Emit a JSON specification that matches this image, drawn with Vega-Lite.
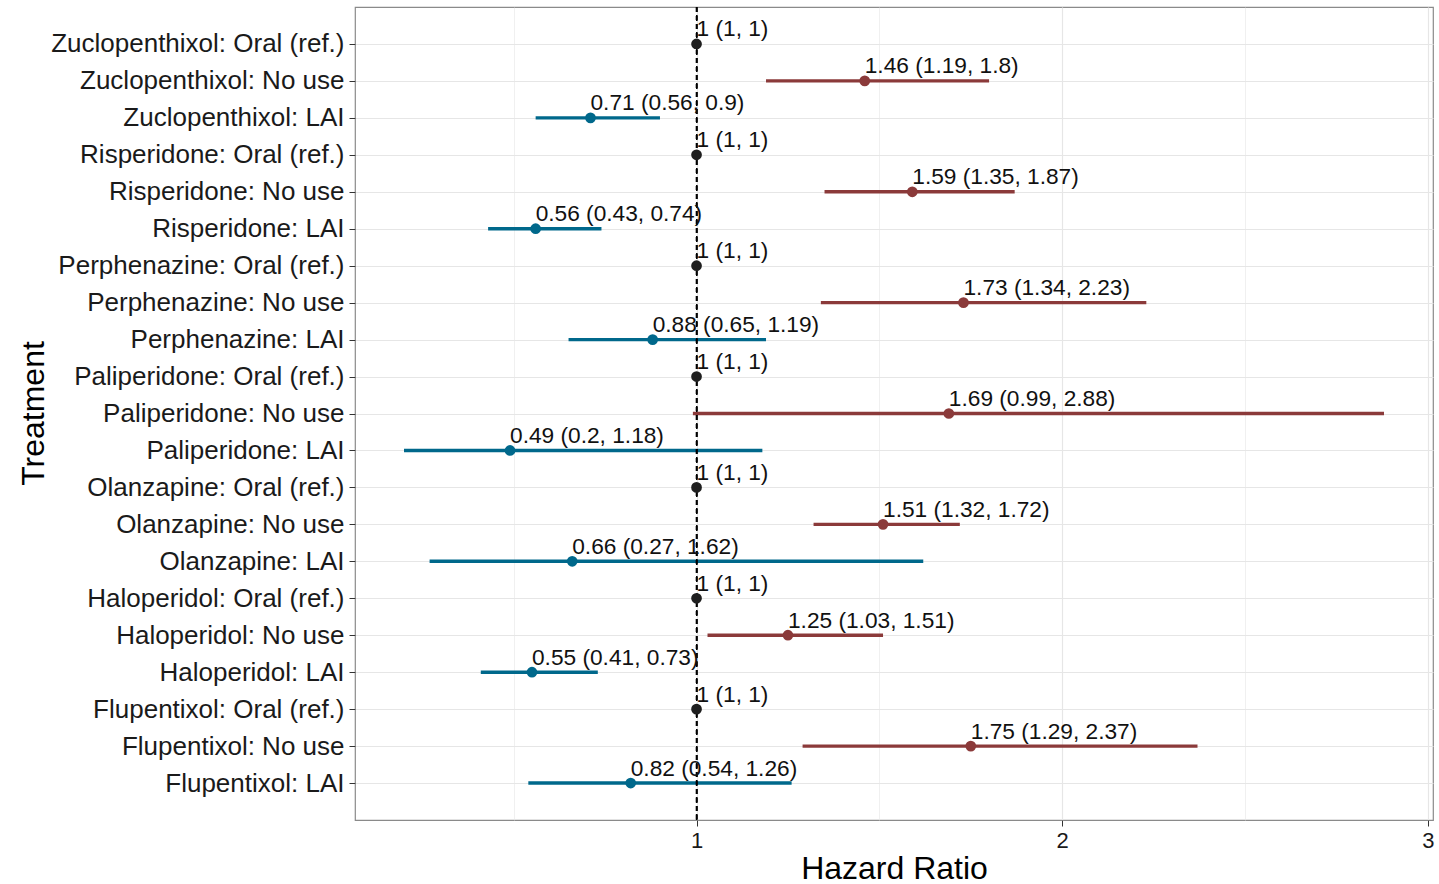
{
  "$schema": "https://vega.github.io/schema/vega-lite/v6.json",
  "width": 1078,
  "height": 813,
  "autosize": {"type": "none"},
  "padding": {"left": 355, "top": 7, "right": 6, "bottom": 64},
  "background": "white",
  "config": {
    "font": "Liberation Sans",
    "view": {"stroke": "#8a8a8a", "strokeWidth": 1.2},
    "axis": {"domain": false}
  },
  "data": {
    "values": [
      {"treatment": "Zuclopenthixol: Oral (ref.)", "use": "Oral (ref.)", "hr": 1, "lo": 1, "hi": 1},
      {"treatment": "Zuclopenthixol: No use", "use": "No use", "hr": 1.46, "lo": 1.19, "hi": 1.8},
      {"treatment": "Zuclopenthixol: LAI", "use": "LAI", "hr": 0.71, "lo": 0.56, "hi": 0.9},
      {"treatment": "Risperidone: Oral (ref.)", "use": "Oral (ref.)", "hr": 1, "lo": 1, "hi": 1},
      {"treatment": "Risperidone: No use", "use": "No use", "hr": 1.59, "lo": 1.35, "hi": 1.87},
      {"treatment": "Risperidone: LAI", "use": "LAI", "hr": 0.56, "lo": 0.43, "hi": 0.74},
      {"treatment": "Perphenazine: Oral (ref.)", "use": "Oral (ref.)", "hr": 1, "lo": 1, "hi": 1},
      {"treatment": "Perphenazine: No use", "use": "No use", "hr": 1.73, "lo": 1.34, "hi": 2.23},
      {"treatment": "Perphenazine: LAI", "use": "LAI", "hr": 0.88, "lo": 0.65, "hi": 1.19},
      {"treatment": "Paliperidone: Oral (ref.)", "use": "Oral (ref.)", "hr": 1, "lo": 1, "hi": 1},
      {"treatment": "Paliperidone: No use", "use": "No use", "hr": 1.69, "lo": 0.99, "hi": 2.88},
      {"treatment": "Paliperidone: LAI", "use": "LAI", "hr": 0.49, "lo": 0.2, "hi": 1.18},
      {"treatment": "Olanzapine: Oral (ref.)", "use": "Oral (ref.)", "hr": 1, "lo": 1, "hi": 1},
      {"treatment": "Olanzapine: No use", "use": "No use", "hr": 1.51, "lo": 1.32, "hi": 1.72},
      {"treatment": "Olanzapine: LAI", "use": "LAI", "hr": 0.66, "lo": 0.27, "hi": 1.62},
      {"treatment": "Haloperidol: Oral (ref.)", "use": "Oral (ref.)", "hr": 1, "lo": 1, "hi": 1},
      {"treatment": "Haloperidol: No use", "use": "No use", "hr": 1.25, "lo": 1.03, "hi": 1.51},
      {"treatment": "Haloperidol: LAI", "use": "LAI", "hr": 0.55, "lo": 0.41, "hi": 0.73},
      {"treatment": "Flupentixol: Oral (ref.)", "use": "Oral (ref.)", "hr": 1, "lo": 1, "hi": 1},
      {"treatment": "Flupentixol: No use", "use": "No use", "hr": 1.75, "lo": 1.29, "hi": 2.37},
      {"treatment": "Flupentixol: LAI", "use": "LAI", "hr": 0.82, "lo": 0.54, "hi": 1.26}
    ]
  },
  "transform": [
    {"calculate": "datum.hr + ' (' + datum.lo + ', ' + datum.hi + ')'", "as": "label"}
  ],
  "encoding": {
    "y": {
      "field": "treatment",
      "type": "nominal",
      "sort": null,
      "scale": {"type": "point", "padding": 1},
      "axis": {
        "title": "Treatment",
        "titleFont": "Liberation Sans",
        "titleFontSize": 32,
        "titleFontWeight": "normal",
        "titleColor": "black",
        "titleAngle": -90,
        "titleX": -312,
        "titleY": 406,
        "titleAlign": "center",
        "titleBaseline": "alphabetic",
        "labelFontSize": 26,
        "labelLimit": 0,
        "labelColor": "#1a1a1a",
        "labelPadding": 5,
        "tickSize": 6,
        "tickColor": "#333333",
        "tickWidth": 1,
        "grid": true,
        "gridColor": "#e6e6e6",
        "gridWidth": 1.2
      }
    }
  },
  "layer": [
    {
      "mark": {"type": "rule", "strokeWidth": 3.4},
      "encoding": {
        "x": {
          "field": "lo",
          "type": "quantitative",
          "scale": {"domain": [0.066, 3.014], "nice": false, "zero": false},
          "axis": {
            "title": "Hazard Ratio",
            "titleFontSize": 32,
            "titleFontWeight": "normal",
            "titleColor": "black",
            "titleX": 539,
            "titleY": 58,
            "titleBaseline": "alphabetic",
            "values": [0.5, 1, 1.5, 2, 2.5, 3],
            "labelExpr": "datum.value % 1 === 0 ? format(datum.value, 'd') : ''",
            "labelFontSize": 22,
            "labelColor": "#1a1a1a",
            "labelPadding": 4,
            "tickSize": 6,
            "tickColor": "#333333",
            "tickOpacity": {"condition": {"test": "datum.value % 1 !== 0", "value": 0}, "value": 1},
            "grid": true,
            "gridColor": "#e6e6e6",
            "gridWidth": {"condition": {"test": "datum.value % 1 !== 0", "value": 0.6}, "value": 1.2}
          }
        },
        "x2": {"field": "hi"},
        "color": {
          "field": "use",
          "type": "nominal",
          "scale": {"domain": ["Oral (ref.)", "No use", "LAI"], "range": ["#1f1f1f", "#8B3A3A", "#00688B"]},
          "legend": null
        }
      }
    },
    {
      "mark": {"type": "rule", "color": "black", "strokeWidth": 1.1, "strokeDash": [5, 3.5]},
      "encoding": {"x": {"datum": 1, "type": "quantitative"}, "y": null}
    },
    {
      "mark": {"type": "circle", "size": 115, "opacity": 1},
      "encoding": {
        "x": {"field": "hr", "type": "quantitative"},
        "color": {"field": "use", "type": "nominal", "legend": null}
      }
    },
    {
      "mark": {"type": "text", "align": "left", "baseline": "alphabetic", "dx": 0, "dy": -7.5, "fontSize": 22.7, "color": "#111111"},
      "encoding": {
        "x": {"field": "hr", "type": "quantitative"},
        "text": {"field": "label"}
      }
    }
  ]
}
